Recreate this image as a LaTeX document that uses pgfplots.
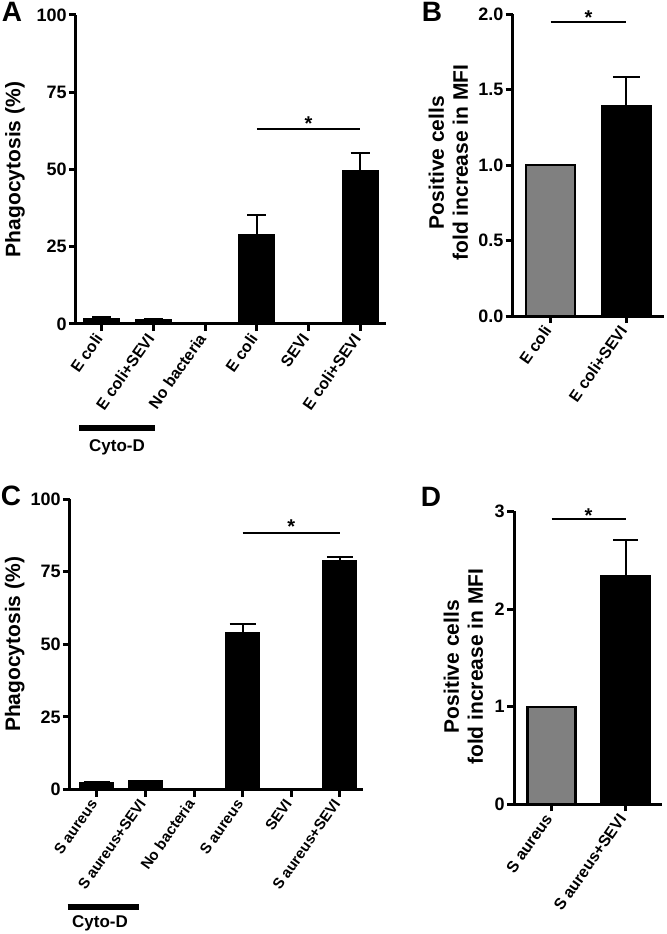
\documentclass[border=0pt]{standalone}
\usepackage{fontspec}
\setmainfont{Liberation Sans}
\usepackage{pgfplots}
\pgfplotsset{compat=1.18}

\pgfplotsset{
  prism/.style={
    scale only axis,
    anchor=south west,
    axis x line*=bottom,
    axis y line*=left,
    axis line style={line width=1.5pt, -},
    tick align=outside,
    major tick length=3.5pt,
    tick style={line width=1.5pt, black},
    ymin=0,
    clip=false,
    xticklabel style={font=\bfseries\fontsize{8}{9}\selectfont, inner sep=2.5pt, rotate=55, anchor=east},
    yticklabel style={font=\bfseries\fontsize{9}{10}\selectfont, inner sep=1pt},
    ylabel style={font=\bfseries\fontsize{10.5}{12}\selectfont, align=center, anchor=center},
  },
  pbar/.style={ybar, bar shift=0pt, draw=black, line width=1.2pt, fill=#1},
  pbar/.default=black,
  perr/.style={error bars/.cd, y dir=plus, y explicit,
    error bar style={line width=1pt, black},
    error mark options={rotate=90, line width=1pt, black, mark size=#1}},
}

\begin{document}
\begin{tikzpicture}
\useasboundingbox (0,0) rectangle (333pt,467pt);

% ---- A ----
\begin{axis}[prism, at={(38pt,305pt)}, width=155pt, height=154.5pt,
    xmin=-0.5, xmax=5.5, ymax=100,
    ytick={0,25,50,75,100}, yticklabels={0,25,50,75,100},
    xtick={0,1,2,3,4,5},
    xticklabels={E coli, E coli+SEVI, No bacteria, E coli, SEVI, E coli+SEVI},
    ylabel={Phagocytosis (\%)},
    ylabel style={at={(axis description cs:-0.197,0.5)}},
  ]
  \addplot[pbar, bar width=17.3pt, perr=4.8pt] coordinates {
    (0,1.5) +- (0,0.9)
    (1,1.3) +- (0,0.2)
    (3,28.8) +- (0,6.5)
    (5,49.3) +- (0,5.9)
  };
  \addplot[pbar, bar width=17.3pt] coordinates {(2,0.4) (4,0.4)};
  \draw[line width=1pt] (axis cs:3,63) -- (axis cs:5,63);
  \node[font=\bfseries\fontsize{10}{10}\selectfont, yshift=-2pt] at (axis cs:4,66) {*};
\end{axis}

% ---- B ----
\begin{axis}[prism, at={(256.35pt,309pt)}, width=75.7pt, height=151pt,
    xmin=-0.5, xmax=1.5, ymax=2,
    ytick={0,0.5,1,1.5,2}, yticklabels={0.0,0.5,1.0,1.5,2.0},
    xtick={0,1},
    xticklabels={E coli, E coli+SEVI},
    ylabel={Positive cells\\fold increase in MFI},
    ylabel style={at={(axis description cs:-0.425,0.508)}},
  ]
  \addplot[pbar=gray, bar width=24.3pt] coordinates {(0,1.0)};
  \addplot[pbar, bar width=24.3pt, perr=6.7pt] coordinates {(1,1.39) +- (0,0.195)};
  \draw[line width=1pt] (axis cs:0,1.947) -- (axis cs:1,1.947);
  \node[font=\bfseries\fontsize{10}{10}\selectfont, yshift=-2pt] at (axis cs:0.5,2.0) {*};
\end{axis}

% ---- C ----
\begin{axis}[prism, at={(35pt,72.25pt)}, width=146.65pt, height=145.1pt,
    xmin=-0.55, xmax=5.48, ymax=100,
    ytick={0,25,50,75,100}, yticklabels={0,25,50,75,100},
    xtick={0,1,2,3,4,5},
    xticklabels={S aureus, S aureus+SEVI, No bacteria, S aureus, SEVI, S aureus+SEVI},
    xticklabel style={font=\bfseries\fontsize{7.5}{9}\selectfont},
    ylabel={Phagocytosis (\%)},
    ylabel style={at={(axis description cs:-0.188,0.5)}},
  ]
  \addplot[pbar, bar width=16.3pt, perr=6.5pt] coordinates {
    (0,2.1) +- (0,0.6)
    (1,2.8) +- (0,0.2)
    (3,53.8) +- (0,3.4)
    (5,78.8) +- (0,1.2)
  };
  \addplot[pbar, bar width=16.3pt] coordinates {(2,0.15) (4,0.15)};
  \draw[line width=1pt] (axis cs:3,88.5) -- (axis cs:5,88.5);
  \node[font=\bfseries\fontsize{10}{10}\selectfont, yshift=-2pt] at (axis cs:4,91.8) {*};
\end{axis}

% ---- D ----
\begin{axis}[prism, at={(257pt,64.8pt)}, width=73.85pt, height=146.55pt,
    xmin=-0.51, xmax=1.49, ymax=3,
    ytick={0,1,2,3}, yticklabels={0,1,2,3},
    xtick={0,1},
    xticklabels={S aureus, S aureus+SEVI},
    ylabel={Positive cells\\fold increase in MFI},
    ylabel style={at={(axis description cs:-0.343,0.47)}},
  ]
  \addplot[pbar=gray, bar width=24pt] coordinates {(0,1.0)};
  \addplot[pbar, bar width=24pt, perr=6.2pt] coordinates {(1,2.34) +- (0,0.37)};
  \draw[line width=1pt] (axis cs:0,2.92) -- (axis cs:1,2.92);
  \node[font=\bfseries\fontsize{10}{10}\selectfont, yshift=-2pt] at (axis cs:0.5,3.0) {*};
\end{axis}

% Cyto-D brackets
\draw[line width=3pt] (39.5pt,253pt) -- (77.5pt,253pt);
\node[font=\bfseries\fontsize{8.5}{9}\selectfont] at (58.5pt,243.5pt) {Cyto-D};
\draw[line width=3pt] (33.85pt,13.65pt) -- (69.65pt,13.65pt);
\node[font=\bfseries\fontsize{8.5}{9}\selectfont] at (50pt,5.4pt) {Cyto-D};

% panel letters
\begin{scope}[every node/.style={font=\bfseries\fontsize{14}{14}\selectfont}]
\node at (6pt,461pt) {A};
\node at (216pt,461pt) {B};
\node at (5.5pt,219pt) {C};
\node at (215.5pt,218.5pt) {D};
\end{scope}
\end{tikzpicture}
\end{document}
